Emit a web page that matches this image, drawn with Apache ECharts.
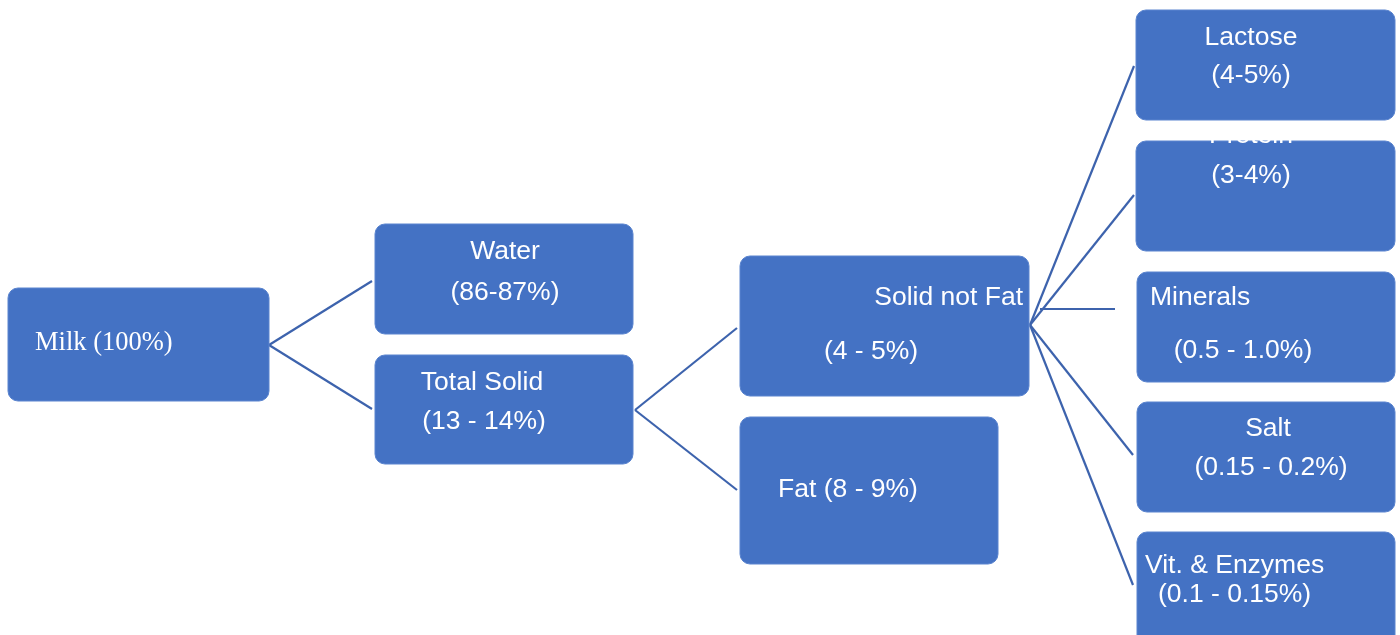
<!DOCTYPE html>
<html>
<head>
<meta charset="utf-8">
<script src="https://cdn.jsdelivr.net/npm/echarts@6/dist/echarts.min.js"></script>
<style>
html,body{margin:0;padding:0;background:#fff;}
#chart{width:1400px;height:635px;}
</style>
</head>
<body>
<div id="chart"></div>
<script>
// Node texts (content of the diagram)
const nodeNames = ['Milk (100%)', 'Water', 'Total Solid', 'Solid not Fat', 'Fat (8 - 9%)',
  'Lactose', 'Protein', 'Minerals', 'Salt', 'Vit. & Enzymes'];
const nodeShares = ['', '(86-87%)', '(13 - 14%)', '(4 - 5%)', '',
  '(4-5%)', '(3-4%)', '(0.5 - 1.0%)', '(0.15 - 0.2%)', '(0.1 - 0.15%)'];

// Layout (diagram coordinates: x 0-1400, y 0-635 top-down)
const boxRects = [
  [8, 288, 269, 401],
  [375, 224, 633, 334],
  [375, 355, 633, 464],
  [740, 256, 1029, 396],
  [740, 417, 998, 564],
  [1136, 10, 1395, 120],
  [1136, 141, 1395, 251],
  [1137, 272, 1395, 382],
  [1137, 402, 1395, 512],
  [1137, 532, 1395, 645]
];
const nameAnchors = [
  [35, 343, 'left'], [505, 252, 'center'], [482, 383, 'center'], [1023, 298, 'right'], [848, 490, 'center'],
  [1251, 38, 'center'], [1251, 136, 'center'], [1150, 298, 'left'], [1268, 429, 'center'], [1145, 566, 'left']
];
const shareAnchors = [
  [0, 0, 'left'], [505, 293, 'center'], [484, 422, 'center'], [871, 352, 'center'], [0, 0, 'left'],
  [1251, 76, 'center'], [1251, 176, 'center'], [1243, 351, 'center'], [1271, 468, 'center'], [1158, 595, 'left']
];
const connectors = [
  [[269, 345], [372, 281]],
  [[269, 345], [372, 409]],
  [[635, 410], [737, 328]],
  [[635, 410], [737, 490]],
  [[1030, 325], [1134, 66]],
  [[1030, 325], [1134, 195]],
  [[1040, 309], [1115, 309]],
  [[1030, 325], [1133, 455]],
  [[1030, 325], [1133, 585]]
];

// Build label list
const labelTexts = [];
const labelData = [];
const labelAlign = [];
const labelFont = [];
nodeNames.forEach((n, i) => {
  labelTexts.push(n); labelData.push([nameAnchors[i][0], nameAnchors[i][1]]); labelAlign.push(nameAnchors[i][2]);
  labelFont.push(i === 0 ? 'serif' : 'sans');
  if (nodeShares[i]) {
    labelTexts.push(nodeShares[i]); labelData.push([shareAnchors[i][0], shareAnchors[i][1]]); labelAlign.push(shareAnchors[i][2]);
    labelFont.push('sans');
  }
});

const chart = echarts.init(document.getElementById('chart'), null, {renderer: 'canvas'});
chart.setOption({
  animation: false,
  backgroundColor: '#ffffff',
  grid: {left: 0, right: 0, top: 0, bottom: 0},
  xAxis: {type: 'value', min: 0, max: 1400, show: false},
  yAxis: {type: 'value', min: 0, max: 635, inverse: true, show: false},
  series: [
    {
      type: 'lines',
      coordinateSystem: 'cartesian2d',
      z: 1,
      silent: true,
      lineStyle: {color: '#3d63ad', width: 2.2, opacity: 1},
      data: connectors.map(c => ({coords: c}))
    },
    {
      type: 'custom',
      z: 2,
      silent: true,
      clip: false,
      data: boxRects,
      renderItem: function (params, api) {
        const p0 = api.coord([api.value(0), api.value(1)]);
        const p1 = api.coord([api.value(2), api.value(3)]);
        return {
          type: 'rect',
          shape: {x: p0[0], y: p0[1], width: p1[0] - p0[0], height: p1[1] - p0[1], r: 10},
          style: {fill: '#4472c4', stroke: '#5a84cf', lineWidth: 1}
        };
      }
    },
    {
      type: 'custom',
      z: 3,
      silent: true,
      clip: false,
      data: labelData,
      renderItem: function (params, api) {
        const i = params.dataIndex;
        const p = api.coord([api.value(0), api.value(1)]);
        const serif = labelFont[i] === 'serif';
        return {
          type: 'text',
          x: p[0], y: p[1],
          style: {
            text: labelTexts[i],
            fill: '#ffffff',
            font: serif ? '26.5px "Liberation Serif", "Times New Roman", serif' : '26.5px "Liberation Sans", Arial, sans-serif',
            textAlign: labelAlign[i],
            textVerticalAlign: 'middle'
          }
        };
      }
    }
  ]
});
</script>
</body>
</html>
